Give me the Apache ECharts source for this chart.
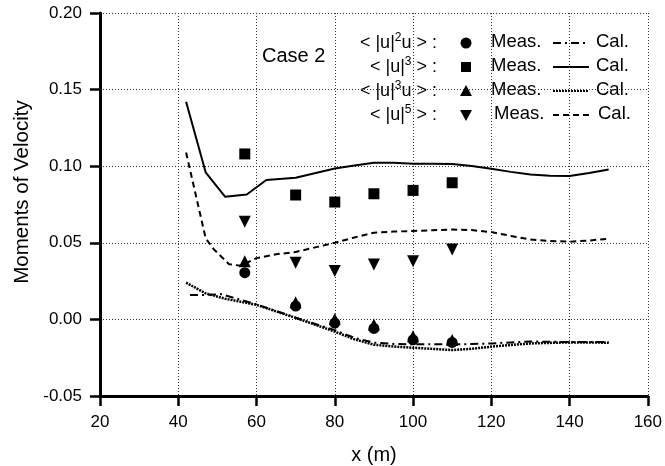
<!DOCTYPE html>
<html>
<head>
<meta charset="utf-8">
<script src="https://cdn.jsdelivr.net/npm/echarts@6/dist/echarts.min.js"></script>
<style>
  html, body { margin: 0; padding: 0; background: #fff; }
  #chart { width: 665px; height: 466px; }
</style>
</head>
<body>
<div id="chart"></div>
<script>
// Downstream distance of measurement stations (m)
const measX = [57, 70, 80, 90, 100, 110];

// Measured moments
const u2uMeas = [0.0305, 0.0087, -0.0024, -0.0059, -0.0133, -0.0150];
const cubeMeas = [0.108, 0.0812, 0.0766, 0.082, 0.0842, 0.0892];
const u3uMeas = [0.038, 0.0112, 0.0003, -0.0033, -0.0110, -0.0135];
const fifthMeas = [0.0638, 0.037, 0.0316, 0.0359, 0.038, 0.0457];

// Calculated moments
const cubeCalX = [42, 47, 52, 57.5, 62.5, 70, 80, 85, 90, 95, 100, 105, 110, 115, 120, 125, 130, 135, 140, 145, 150];
const cubeCalY = [0.142, 0.096, 0.080, 0.0815, 0.091, 0.0925, 0.0985, 0.1005, 0.1022, 0.1022, 0.1016, 0.1016, 0.1015, 0.1002, 0.0984, 0.0963, 0.0946, 0.0938, 0.0936, 0.0955, 0.0979];

const fifthCalX = [42, 47, 49, 53, 56, 60, 65, 70, 75, 80, 85, 90, 95, 100, 105, 110, 115, 120, 125, 130, 135, 140, 145, 150];
const fifthCalY = [0.109, 0.053, 0.046, 0.036, 0.035, 0.040, 0.0425, 0.044, 0.047, 0.050, 0.0535, 0.0566, 0.0573, 0.0577, 0.0582, 0.0587, 0.0583, 0.057, 0.0545, 0.0522, 0.0512, 0.0507, 0.0515, 0.0527];

const u2uCalX = [43, 47, 51, 55, 60, 70, 75, 80, 85, 90, 95, 100, 110, 115, 120, 125, 130, 140, 150];
const u2uCalY = [0.016, 0.016, 0.0165, 0.0135, 0.0098, 0.0011, -0.003, -0.0070, -0.0120, -0.0152, -0.0160, -0.0163, -0.0163, -0.0161, -0.0157, -0.0150, -0.0144, -0.0148, -0.0148];

const u3uCalX = [42, 47, 52, 60, 70, 75, 80, 85, 90, 95, 100, 110, 115, 120, 125, 130, 140, 150];
const u3uCalY = [0.024, 0.017, 0.0135, 0.0095, 0.001, -0.0035, -0.008, -0.013, -0.0165, -0.0177, -0.0185, -0.0200, -0.0192, -0.0178, -0.0167, -0.0157, -0.0150, -0.0152];

// Axis ticks
const xTicks = { min: 20, max: 160, step: 20 };
const yTicks = { min: -0.05, max: 0.20, step: 0.05 };

const FONT = '"Liberation Sans", Arial, Helvetica, sans-serif';

const pairs = (xs, ys) => xs.map((x, i) => [x, ys[i]]);

const chart = echarts.init(document.getElementById('chart'), null, { renderer: 'canvas' });

const calLine = (name, xs, ys, dash, width) => ({
  name: name,
  type: 'line',
  data: pairs(xs, ys),
  showSymbol: false,
  smooth: false,
  lineStyle: { color: '#000', width: width, type: dash, join: 'round' },
  z: 3
});

const measPoints = (name, ys, symbol, size, rotate) => ({
  name: name,
  type: 'scatter',
  data: pairs(measX, ys),
  symbol: symbol,
  symbolSize: size,
  symbolRotate: rotate || 0,
  itemStyle: { color: '#000', opacity: 1 },
  z: 4
});

// Legend rows: label, marker, line dash
const rowY = [42, 66, 90, 114];
const legendLabels = [
  '{n|< |u|}{s|2}{n|u > :}',
  '{n|< |u|}{s|3}{n| > :}',
  '{n|< |u|}{s|3}{n|u > :}',
  '{n|< |u|}{s|5}{n| > :}'
];
const legendDash = [[8, 4, 2, 4], null, [2, 1], [6, 4]];

const graphics = [];
graphics.push({
  type: 'text', x: 262, y: 56,
  style: { text: 'Case 2', font: '20px ' + FONT, fill: '#000', verticalAlign: 'middle' }
});
legendLabels.forEach((t, i) => {
  graphics.push({
    type: 'text', x: 437, y: rowY[i],
    style: {
      text: t, align: 'right', verticalAlign: 'middle', fill: '#000',
      rich: {
        n: { fontSize: 18, fontFamily: FONT, lineHeight: 21, verticalAlign: 'bottom' },
        s: { fontSize: 12, fontFamily: FONT, lineHeight: 21, verticalAlign: 'top' }
      }
    }
  });
  graphics.push({
    type: 'text', x: 491 + (i === 3 ? 3 : 0), y: rowY[i],
    style: { text: 'Meas.', font: '18.5px ' + FONT, fill: '#000', verticalAlign: 'middle' }
  });
  graphics.push({
    type: 'text', x: 596 + (i === 3 ? 2 : 0), y: rowY[i],
    style: { text: 'Cal.', font: '18.5px ' + FONT, fill: '#000', verticalAlign: 'middle' }
  });
  graphics.push({
    type: 'line',
    shape: { x1: 553, y1: rowY[i] + 1, x2: 589, y2: rowY[i] + 1 },
    style: { stroke: '#000', lineWidth: 2, lineDash: legendDash[i] }
  });
});
// legend markers
graphics.push({ type: 'circle', shape: { cx: 466, cy: rowY[0] + 1, r: 5.5 }, style: { fill: '#000' } });
graphics.push({ type: 'rect', shape: { x: 461, y: rowY[1] - 4, width: 10, height: 10 }, style: { fill: '#000' } });
graphics.push({ type: 'polygon', shape: { points: [[466, rowY[2] - 5], [472, rowY[2] + 6], [460, rowY[2] + 6]] }, style: { fill: '#000' } });
graphics.push({ type: 'polygon', shape: { points: [[460, rowY[3] - 4], [472, rowY[3] - 4], [466, rowY[3] + 7]] }, style: { fill: '#000' } });
// axis titles
graphics.push({
  type: 'text', x: 22, y: 192, rotation: Math.PI / 2,
  style: { text: 'Moments of Velocity', font: '20.5px ' + FONT, fill: '#000', align: 'center', verticalAlign: 'middle' }
});
graphics.push({
  type: 'text', x: 374, y: 455,
  style: { text: 'x (m)', font: '20px ' + FONT, fill: '#000', align: 'center', verticalAlign: 'middle' }
});

const option = {
  backgroundColor: '#fff',
  animation: false,
  grid: { left: 100, right: 17, top: 13, bottom: 70, containLabel: false },
  xAxis: {
    type: 'value',
    min: xTicks.min, max: xTicks.max, interval: xTicks.step,
    axisLine: { onZero: false, lineStyle: { color: '#000', width: 3 } },
    axisTick: { length: 10, lineStyle: { color: '#000', width: 2.5 } },
    axisLabel: { color: '#000', fontSize: 17, fontFamily: FONT, margin: 18 },
    splitLine: { show: true, lineStyle: { color: '#333', width: 1, type: [1, 2] } }
  },
  yAxis: {
    type: 'value',
    min: yTicks.min, max: yTicks.max, interval: yTicks.step,
    axisLine: { onZero: false, lineStyle: { color: '#000', width: 3 } },
    axisTick: { length: 10, lineStyle: { color: '#000', width: 2.5 } },
    axisLabel: { color: '#000', fontSize: 17, fontFamily: FONT, margin: 18,
      formatter: v => v.toFixed(2) },
    splitLine: { show: true, lineStyle: { color: '#333', width: 1, type: [1, 2] } }
  },
  series: [
    calLine('<|u|²u> Cal.', u2uCalX, u2uCalY, [8, 4, 2, 4], 2),
    calLine('<|u|³> Cal.', cubeCalX, cubeCalY, 'solid', 2),
    calLine('<|u|³u> Cal.', u3uCalX, u3uCalY, [2, 1], 2.5),
    calLine('<|u|⁵> Cal.', fifthCalX, fifthCalY, [6, 4], 2),
    measPoints('<|u|²u> Meas.', u2uMeas, 'circle', 11),
    measPoints('<|u|³> Meas.', cubeMeas, 'rect', 11),
    measPoints('<|u|³u> Meas.', u3uMeas, 'triangle', 12),
    measPoints('<|u|⁵> Meas.', fifthMeas, 'triangle', 12, 180)
  ],
  graphic: graphics
};

chart.setOption(option);
</script>
</body>
</html>
